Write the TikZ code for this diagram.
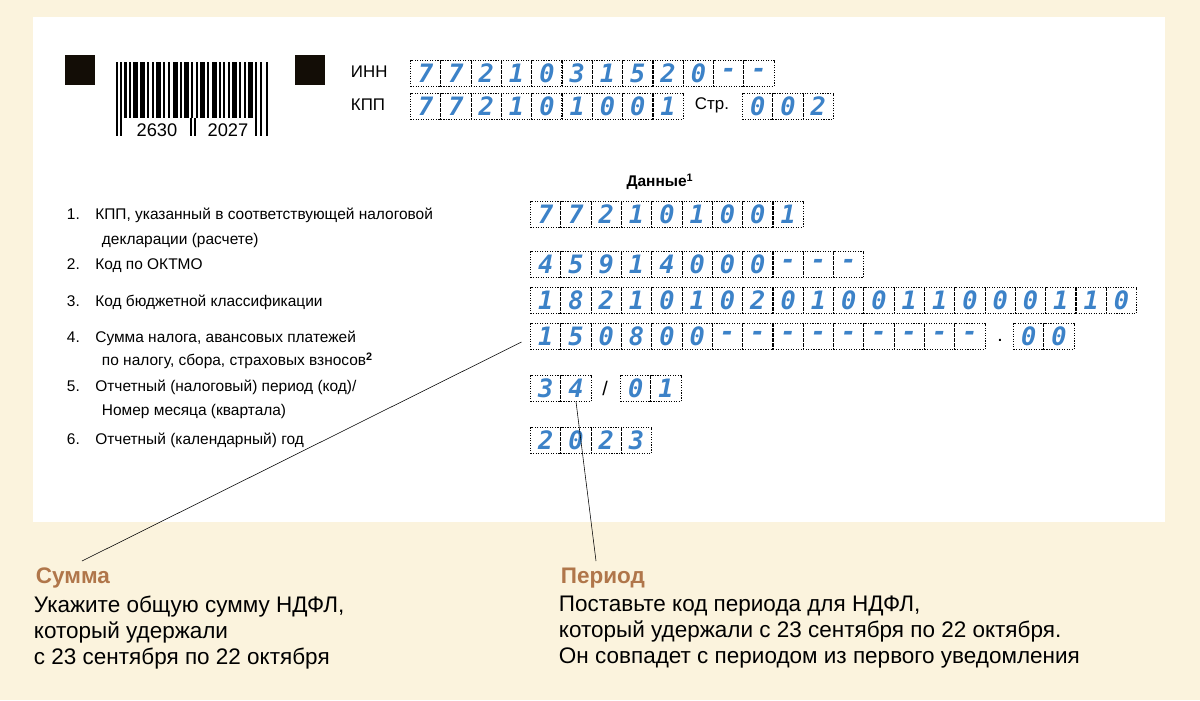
\documentclass[tikz,border=0pt]{standalone}
\usepackage{fontspec}
\setmainfont{Liberation Sans}
\newfontfamily\cellfont{DejaVu Sans Mono}
\usetikzlibrary{positioning}
\definecolor{paper}{RGB}{251,243,221}
\definecolor{digit}{RGB}{60,130,200}
\definecolor{callout}{RGB}{176,118,74}
% row of form cells: \cellrow{name}{x}{y}{digits}
\newcommand{\cellrow}[4]{%
  \foreach \d [count=\i] in {#4}
    \node[cell] (#1-\i) at ({#2+(\i-1)*30.3},#3) {\d};}

\begin{document}
\begin{tikzpicture}[
    x=0.025cm, y=-0.025cm,
    cell/.style={draw, densely dotted, thick, minimum width=0.757cm,
      minimum height=0.64cm, inner sep=0pt, anchor=north west,
      text=digit, font=\cellfont\itshape\bfseries\fontsize{18}{18}\selectfont},
    item/.style={anchor=west, font=\fontsize{11}{12}\selectfont},
    head/.style={anchor=west, font=\bfseries\fontsize{16}{18}\selectfont, text=callout},
    body/.style={anchor=north west, align=left, font=\fontsize{16}{18.5}\selectfont},
]
\useasboundingbox (0,0) rectangle (1200,700);
\fill[paper] (0,0) rectangle (1200,700);
\fill[white] (33,17) rectangle (1165,522);

% ── Markers and barcode ─────────────────────────────────────────
\fill[black!90!brown] (65,55) rectangle (95,85);
\fill[black!90!brown] (295,55) rectangle (325,85);
\foreach \bx/\bw in {116/2,120/2,124/3,129/2,133/5,140/5,147/2,152/2,156/5,163/2,
    168/2,173/5,180/2,184/5,191/2,196/2,200/5,207/2,212/5,219/2,223/2,228/2,
    232/5,239/2,244/2,248/5,255/2,260/2,266/2}
  \fill (\bx,62) rectangle ++(\bw,56);
\foreach \bx in {116,120,255,260,266} \fill (\bx,118) rectangle ++(2,18);
\fill (190,118) rectangle ++(2,18);
\fill (194,118) rectangle ++(2,18);
\node[font=\fontsize{13}{13}\selectfont] (code1) at (157,130) {2630};
\node[font=\fontsize{13}{13}\selectfont] (code2) at (228,130) {2027};

% ── Header cells ────────────────────────────────────────────────
\node[item, font=\fontsize{12}{12}\selectfont] (inn) at (346,72) {ИНН};
\node[item, font=\fontsize{12}{12}\selectfont] (kpp) at (346,105) {КПП};
\cellrow{innc}{410}{60}{7,7,2,1,0,3,1,5,2,0,-,-}
\cellrow{kppc}{410}{93}{7,7,2,1,0,1,0,0,1}
\node[item, font=\fontsize{12}{12}\selectfont] (page) at (690,105) {Стр.};
\cellrow{pagec}{742}{93}{0,0,2}

% ── Item list ───────────────────────────────────────────────────
\node[font=\bfseries\fontsize{11}{12}\selectfont] (data) at (660,182) {Данные\textsuperscript{1}};
\node[item] (i1a) at (62,215) {1.\quad КПП, указанный в соответствующей налоговой};
\node[item] (i1b) at (97,240) {декларации (расчете)};
\node[item] (i2) at (62,266) {2.\quad Код по ОКТМО};
\node[item] (i3) at (62,302) {3.\quad Код бюджетной классификации};
\node[item] (i4a) at (62,338) {4.\quad Сумма налога, авансовых платежей};
\node[item] (i4b) at (97,361) {по налогу, сбора, страховых взносов\textsuperscript{\bfseries 2}};
\node[item] (i5a) at (62,387) {5.\quad Отчетный (налоговый) период (код)/};
\node[item] (i5b) at (97,411) {Номер месяца (квартала)};
\node[item] (i6) at (62,440) {6.\quad Отчетный (календарный) год};

% ── Data cells ──────────────────────────────────────────────────
\cellrow{r1}{530}{201}{7,7,2,1,0,1,0,0,1}
\cellrow{r2}{530}{251}{4,5,9,1,4,0,0,0,-,-,-}
\cellrow{r3}{530}{287}{1,8,2,1,0,1,0,2,0,1,0,0,1,1,0,0,0,1,1,0}
\cellrow{r4}{530}{323}{1,5,0,8,0,0,-,-,-,-,-,-,-,-,-}
\node[font=\bfseries] (dot) at (1000,340) {.};
\cellrow{r4k}{1013}{323}{0,0}
\cellrow{r5}{530}{375}{3,4}
\node[font=\fontsize{14}{14}\selectfont] (slash) at (605,388) {/};
\cellrow{r5m}{620}{375}{0,1}
\cellrow{r6}{530}{427}{2,0,2,3}

% ── Callouts ────────────────────────────────────────────────────
\node[head] (sum) at (31,578) {Сумма};
\node[body] (sumtxt) at (29,591) {Укажите общую сумму НДФЛ,\\который удержали\\с 23 сентября по 22 октября};
\node[head] (period) at (556,578) {Период};
\node[body] (pertxt) at (554,591) {Поставьте код периода для НДФЛ,\\который удержали с 23 сентября по 22 октября.\\Он совпадет с периодом из первого уведомления};
\coordinate (sumend) at (82,561);
\coordinate (perend) at (596,561);
\draw[thin] (sumend) -- ([xshift=-6pt,yshift=-4pt]r4-1.west);
\draw[thin] (perend) -- (r5-2.south);
\end{tikzpicture}
\end{document}
